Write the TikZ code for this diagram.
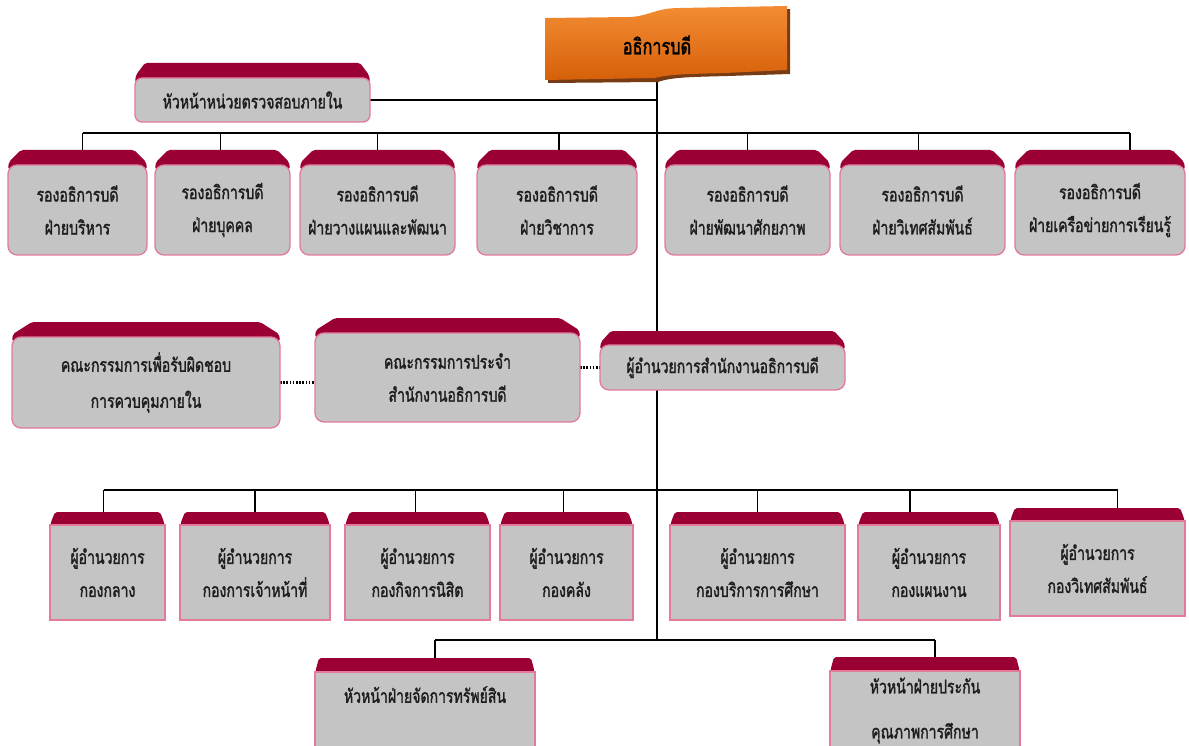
\documentclass[tikz,border=0pt]{standalone}
\usepackage{fontspec}
\newfontfamily\thaifont[Script=Thai,FakeStretch=0.74,FakeBold=1.6]{Loma}
\usetikzlibrary{backgrounds}
\definecolor{capred}{RGB}{155,0,52}
\definecolor{boxgray}{RGB}{196,196,196}
\definecolor{rimpink}{RGB}{226,122,152}
\definecolor{txt}{RGB}{30,30,30}
\definecolor{bannerlight}{RGB}{242,140,50}
\definecolor{bannerdark}{RGB}{214,96,10}
\definecolor{bannerrim}{RGB}{120,60,20}

\newcommand{\boxcap}[3]{%
  \fill[capred,rounded corners=2pt] ([yshift=-4pt]#1.north west) -- ([xshift=1pt,yshift=3pt]#1.north west)
    -- ([xshift=#2,yshift=#3]#1.north west) -- ([xshift=-#2,yshift=#3]#1.north east)
    -- ([xshift=-1pt,yshift=3pt]#1.north east) -- ([yshift=-4pt]#1.north east) -- cycle;}

\begin{document}
\begin{tikzpicture}[x=1pt,y=-1pt,
    link/.style={line width=1.4pt},
    dotlink/.style={line width=2.2pt,dash pattern=on 1.6pt off 1.6pt},
    body/.style={fill=boxgray,draw=rimpink,line width=1.3pt,inner sep=0pt,outer sep=0pt,
      align=center,text=txt,font=\thaifont\fontsize{19}{33}\selectfont},
    vpbox/.style={body,rounded corners=9pt},
    divbox/.style={body}]
    \useasboundingbox (0,0) rectangle (1189,746);
    \clip (0,0) rectangle (1189,746);

    \fill[bannerrim] (548,21) -- (632,20) .. controls (652,19) and (657,11) .. (683,11) -- (790,9)
        -- (790,74) -- (728,76) .. controls (692,77) and (672,77) .. (658,82) -- (548,83) -- cycle;
    \shade[top color=bannerlight,bottom color=bannerdark] (545,18) -- (630,17) .. controls (650,16) and (655,8) .. (680,8) -- (787,6)
        -- (787,70) -- (725,73) .. controls (690,74) and (670,74) .. (655,78) -- (545,80) -- cycle;
    \node[font=\thaifont\fontsize{22}{25}\selectfont,text=black] (chief) at (657,45) {อธิการบดี};

    \node[vpbox,rounded corners=7pt,minimum width=235pt,minimum height=44pt] (audit) at (252.5,100) {หัวหน้าหน่วยตรวจสอบภายใน};

    \node[vpbox,minimum width=139pt,minimum height=90pt] (v1) at (77.5,210) {รองอธิการบดี\\ฝ่ายบริหาร};
    \node[vpbox,minimum width=135pt,minimum height=90pt] (v2) at (222.5,210) {รองอธิการบดี\\ฝ่ายบุคคล};
    \node[vpbox,minimum width=155pt,minimum height=90pt] (v3) at (377.5,210) {รองอธิการบดี\\ฝ่ายวางแผนและพัฒนา};
    \node[vpbox,minimum width=160pt,minimum height=90pt] (v4) at (557,210) {รองอธิการบดี\\ฝ่ายวิชาการ};
    \node[vpbox,minimum width=165pt,minimum height=90pt] (v5) at (747.5,210) {รองอธิการบดี\\ฝ่ายพัฒนาศักยภาพ};
    \node[vpbox,minimum width=165pt,minimum height=90pt] (v6) at (922.5,210) {รองอธิการบดี\\ฝ่ายวิเทศสัมพันธ์};
    \node[vpbox,minimum width=170pt,minimum height=90pt] (v7) at (1100,210) {รองอธิการบดี\\ฝ่ายเครือข่ายการเรียนรู้};

    \node[vpbox,minimum width=268pt,minimum height=91pt] (ctrl) at (146,382.5) {คณะกรรมการเพื่อรับผิดชอบ\\[3pt]การควบคุมภายใน};
    \node[vpbox,minimum width=265pt,minimum height=89pt] (board) at (447.5,377.5) {คณะกรรมการประจำ\\สำนักงานอธิการบดี};
    \node[vpbox,minimum width=245pt,minimum height=45pt] (dirofc) at (722.5,367.5) {ผู้อำนวยการสำนักงานอธิการบดี};

    \node[divbox,minimum width=115pt,minimum height=95pt] (d1) at (107.5,572.5) {ผู้อำนวยการ\\กองกลาง};
    \node[divbox,minimum width=150pt,minimum height=95pt] (d2) at (255,572.5) {ผู้อำนวยการ\\กองการเจ้าหน้าที่};
    \node[divbox,minimum width=145pt,minimum height=95pt] (d3) at (417.5,572.5) {ผู้อำนวยการ\\กองกิจการนิสิต};
    \node[divbox,minimum width=133pt,minimum height=95pt] (d4) at (566.5,572.5) {ผู้อำนวยการ\\กองคลัง};
    \node[divbox,minimum width=175pt,minimum height=95pt] (d5) at (757.5,572.5) {ผู้อำนวยการ\\กองบริการการศึกษา};
    \node[divbox,minimum width=142pt,minimum height=95pt] (d6) at (929,572.5) {ผู้อำนวยการ\\กองแผนงาน};
    \node[divbox,minimum width=175pt,minimum height=95pt] (d7) at (1097.5,568.5) {ผู้อำนวยการ\\กองวิเทศสัมพันธ์};

    \node[divbox,minimum width=220pt,minimum height=78pt] (asset) at (425,711) {หัวหน้าฝ่ายจัดการทรัพย์สิน\\\mbox{}};
    \node[divbox,minimum width=190pt,minimum height=79pt] (qa) at (925,710.5) {หัวหน้าฝ่ายประกัน\\[12pt]คุณภาพการศึกษา};

    \coordinate (bus1) at (657,133);
    \coordinate (bus2) at (657,490);
    \coordinate (bus3) at (657,640);

    \begin{pgfonlayer}{background}
        \draw[link] (chief.south) -- (bus3);
        \draw[link] (audit.east) -- (audit.east -| chief);
        \draw[link] ([xshift=5pt]v1.north |- bus1) -- ([xshift=30pt]v7.north |- bus1);
        \foreach \n/\dx in {v1/5,v2/-2,v3/0,v4/2,v5/0,v6/-4,v7/30}
            \draw[link] ([xshift=\dx pt]\n.north |- bus1) -- ([xshift=\dx pt]\n.north);
        \draw[link] ([xshift=-4pt]d1.north |- bus2) -- ([xshift=20pt]d7.north |- bus2);
        \foreach \n/\dx in {d1/-4,d2/0,d3/-2,d4/-3,d5/0,d6/-19,d7/20}
            \draw[link] ([xshift=\dx pt]\n.north |- bus2) -- ([xshift=\dx pt]\n.north);
        \draw[link] ([xshift=10pt]asset.north |- bus3) -- ([xshift=10pt]qa.north |- bus3);
        \draw[link] ([xshift=10pt]asset.north |- bus3) -- ([xshift=10pt]asset.north);
        \draw[link] ([xshift=10pt]qa.north |- bus3) -- ([xshift=10pt]qa.north);
        \draw[dotlink] (ctrl.east) -- (ctrl.east -| board.west);
        \draw[dotlink] (board.east |- dirofc.west) -- (dirofc.west);

        \boxcap{audit}{10pt}{15pt}
        \foreach \n in {v1,v2,v3,v4,v5,v6,v7} {\boxcap{\n}{13pt}{15pt}}
        \boxcap{ctrl}{20pt}{15pt}
        \boxcap{board}{20pt}{15pt}
        \boxcap{dirofc}{11pt}{14pt}
        \foreach \n in {d1,d2,d3,d4,d5,d6,d7} {\boxcap{\n}{5pt}{13pt}}
        \boxcap{asset}{4pt}{14pt}
        \boxcap{qa}{4pt}{14pt}
    \end{pgfonlayer}
\end{tikzpicture}
\end{document}
